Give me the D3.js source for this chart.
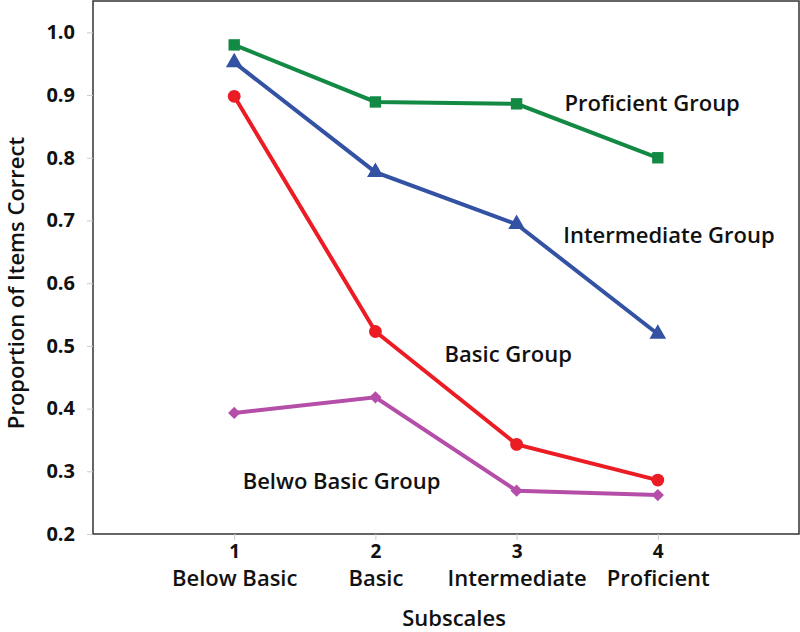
<!DOCTYPE html>
<html>
  <head>
    <meta charset="UTF-8" />
    <script src="https://d3js.org/d3.v7.min.js"></script>
    <style>
      body { margin: 0; background: #fff; }
      text { font-family: "Open Sans", sans-serif; fill: #111; }
    </style>
  </head>
  <body>
    <div id="chart"></div>
    <script type="text/javascript">
      // data
      const subscales = [1, 2, 3, 4];
      const subscaleNames = ["Below Basic", "Basic", "Intermediate", "Proficient"];
      const yTicks = [0.2, 0.3, 0.4, 0.5, 0.6, 0.7, 0.8, 0.9, 1.0];

      const proficient = [0.98, 0.889, 0.886, 0.8];
      const intermediate = [0.952, 0.777, 0.694, 0.519];
      const basic = [0.898, 0.523, 0.343, 0.286];
      const belowBasic = [0.393, 0.418, 0.269, 0.262];

      const groupNames = ["Proficient Group", "Intermediate Group", "Basic Group", "Belwo Basic Group"];
      // label anchor in data units (x, y) - left edge / baseline
      const labelX = [3.34, 3.33, 2.49, 1.06];
      const labelY = [0.874, 0.664, 0.475, 0.271];

      const w = 800;
      const h = 632;
      const mLeft = 93, mTop = 1, mRight = 799, mBottom = 534;

      const svg = d3.select("#chart").append("svg")
        .attr("width", w)
        .attr("height", h);

      const x = d3.scaleLinear().domain([0, 5]).range([mLeft, mRight]);
      const y = d3.scaleLinear().domain([0.2, 1.05]).range([mBottom, mTop]);

      // frame
      svg.append("rect")
        .attr("x", mLeft).attr("y", mTop)
        .attr("width", mRight - mLeft).attr("height", mBottom - mTop)
        .attr("fill", "none").attr("stroke", "#333").attr("stroke-width", 1.5);

      // y axis
      const yAxis = svg.append("g")
        .attr("transform", "translate(" + mLeft + ",0)")
        .call(d3.axisLeft(y).tickValues(yTicks).tickSize(6).tickPadding(12).tickFormat(d3.format(".1f")));
      yAxis.select(".domain").remove();
      yAxis.selectAll(".tick line").attr("stroke", "#ccc");
      yAxis.selectAll(".tick text")
        .style("font-family", "'Open Sans', sans-serif")
        .style("font-weight", "700")
        .style("font-size", "20px")
        .attr("fill", "#111");

      // x axis
      const xAxis = svg.append("g")
        .attr("transform", "translate(0," + mBottom + ")")
        .call(d3.axisBottom(x).tickValues(subscales).tickSize(6).tickPadding(5).tickFormat(d3.format("d")));
      xAxis.select(".domain").remove();
      xAxis.selectAll(".tick line").attr("stroke", "#ccc");
      xAxis.selectAll(".tick text")
        .style("font-family", "'Open Sans', sans-serif")
        .style("font-weight", "700")
        .style("font-size", "19px")
        .attr("fill", "#111");
      xAxis.selectAll(".tick")
        .append("text")
        .attr("y", 52)
        .attr("text-anchor", "middle")
        .style("font-family", "'Open Sans', sans-serif")
        .style("font-weight", "600")
        .style("font-size", "22px")
        .attr("fill", "#111")
        .text(function (d, i) { return subscaleNames[i]; });

      // axis titles
      svg.append("text")
        .attr("x", 454).attr("y", 626)
        .attr("text-anchor", "middle")
        .style("font-weight", "600").style("font-size", "22px")
        .text("Subscales");

      svg.append("text")
        .attr("transform", "translate(24,283) rotate(-90)")
        .attr("text-anchor", "middle")
        .style("font-weight", "600").style("font-size", "22px")
        .text("Proportion of Items Correct");

      // series
      const series = [
        { vals: proficient, color: "#138a43", symbol: d3.symbolSquare, size: 130, rot: 0 },
        { vals: intermediate, color: "#3452a4", symbol: d3.symbolTriangle, size: 120, rot: 0 },
        { vals: basic, color: "#ec1c24", symbol: d3.symbolCircle, size: 130, rot: 0 },
        { vals: belowBasic, color: "#b54ea8", symbol: d3.symbolSquare, size: 75, rot: 45 }
      ];

      const line = d3.line()
        .x(function (d, i) { return x(subscales[i]); })
        .y(function (d) { return y(d); });

      series.forEach(function (s) {
        svg.append("path")
          .datum(s.vals)
          .attr("d", line)
          .attr("fill", "none")
          .attr("stroke", s.color)
          .attr("stroke-width", 4);

        svg.selectAll(null)
          .data(s.vals)
          .enter()
          .append("path")
          .attr("d", d3.symbol().type(s.symbol).size(s.size))
          .attr("transform", function (d, i) {
            return "translate(" + x(subscales[i]) + "," + y(d) + ") rotate(" + s.rot + ")";
          })
          .attr("fill", s.color);
      });

      // group labels
      svg.selectAll(".glabel")
        .data(groupNames)
        .enter()
        .append("text")
        .attr("class", "glabel")
        .attr("x", function (d, i) { return x(labelX[i]); })
        .attr("y", function (d, i) { return y(labelY[i]); })
        .style("font-weight", "600")
        .style("font-size", "22px")
        .text(function (d) { return d; });
    </script>
  </body>
</html>
